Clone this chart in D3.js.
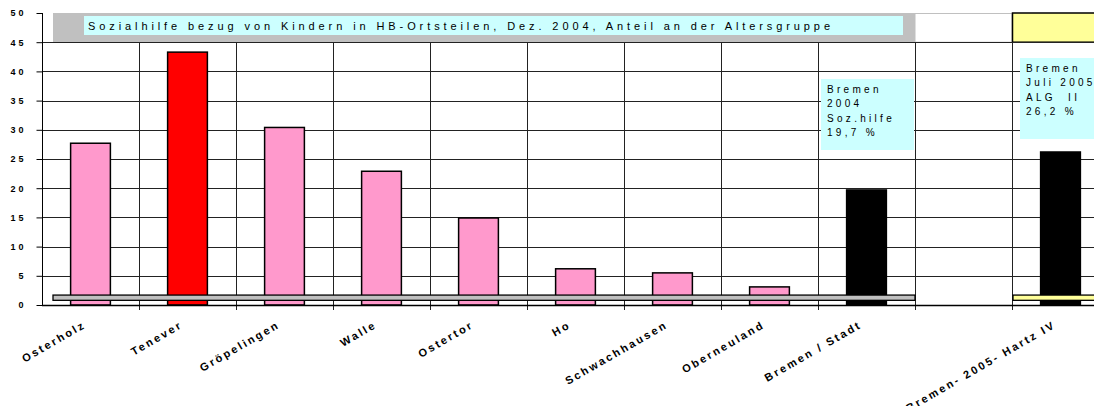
<!doctype html>
<html lang="de">
<head>
<meta charset="UTF-8" />
<title>Sozialhilfebezug von Kindern</title>
<script src="https://d3js.org/d3.v7.min.js"></script>
<style>
  body { margin: 0; background: #fff; }
  text { font-family: Arial, "Liberation Sans", sans-serif; }
</style>
</head>
<body>
<div id="chart"></div>
<script>
var categories = ['Osterholz', 'Tenever', 'Gröpelingen', 'Walle', 'Ostertor', 'Ho',
    'Schwachhausen', 'Oberneuland', 'Bremen / Stadt', ' ', 'Bremen- 2005- Hartz IV'];
var values = [27.7, 43.3, 30.4, 22.9, 14.9, 6.2, 5.5, 3.1, 19.7, null, 26.2];
var barColors = ['#ff99cc', '#ff0000', '#ff99cc', '#ff99cc', '#ff99cc', '#ff99cc',
    '#ff99cc', '#ff99cc', '#000000', null, '#000000'];
var yTicks = [0, 5, 10, 15, 20, 25, 30, 35, 40, 45, 50];
var titleText = 'Sozialhilfe bezug von Kindern in HB-Ortsteilen, Dez. 2004, Anteil an der Altersgruppe';
var note2004 = ['Bremen', '2004', 'Soz.hilfe', '19,7 %'];
var note2005 = ['Bremen', 'Juli 2005', 'ALG  II', '26,2 %'];
// thin base strips drawn over the bars (value range)
var baseStrips = [
    { from: 0, to: 8, lo: 0.8, hi: 1.7, color: '#c0c0c0' },
    { from: 10, to: 10, lo: 0.8, hi: 1.7, color: '#ffff99' }
];

(function () {
var width = 1094, height = 406;
var mLeft = 42, mTop = 13, mBottom = 305;
var step = 97;

var svg = d3.select('#chart').append('svg')
    .attr('width', width)
    .attr('height', height);

var x = d3.scaleBand()
    .domain(categories)
    .range([mLeft, mLeft + step * categories.length])
    .paddingInner(0.59)
    .paddingOuter(0.295);

var y = d3.scaleLinear()
    .domain([0, 50])
    .range([mBottom, mTop]);

var slotStart = function (i) { return x(categories[i]) - x.step() * 0.295; };

// horizontal gridlines
svg.append('g')
    .selectAll('line')
    .data(yTicks.filter(function (d) { return d > 0 && d < 50; }))
    .enter()
    .append('line')
    .attr('x1', mLeft)
    .attr('x2', width)
    .attr('y1', function (d) { return Math.round(y(d)) + 0.5; })
    .attr('y2', function (d) { return Math.round(y(d)) + 0.5; })
    .attr('stroke', '#222')
    .attr('stroke-width', 1);

// vertical gridlines at category boundaries
svg.append('g')
    .selectAll('line')
    .data(d3.range(1, categories.length + 1))
    .enter()
    .append('line')
    .attr('x1', function (i) { return Math.round(mLeft + x.step() * i) + 0.5; })
    .attr('x2', function (i) { return Math.round(mLeft + x.step() * i) + 0.5; })
    .attr('y1', y(45))
    .attr('y2', mBottom + 5)
    .attr('stroke', '#222')
    .attr('stroke-width', 1);

// bars
svg.append('g')
    .selectAll('rect')
    .data(categories.map(function (c, i) { return { cat: c, v: values[i], color: barColors[i] }; })
        .filter(function (d) { return d.v !== null; }))
    .enter()
    .append('rect')
    .attr('x', function (d) { return x(d.cat); })
    .attr('y', function (d) { return y(d.v); })
    .attr('width', x.bandwidth())
    .attr('height', function (d) { return y(0) - y(d.v); })
    .attr('fill', function (d) { return d.color; })
    .attr('stroke', '#000')
    .attr('stroke-width', 1.5);

// base strips
var stripStart = function (d) { return d.from === 0 ? mLeft + 11 : slotStart(d.from) + 1; };
svg.append('g')
    .selectAll('rect')
    .data(baseStrips)
    .enter()
    .append('rect')
    .attr('x', stripStart)
    .attr('y', function (d) { return y(d.hi); })
    .attr('width', function (d) { return slotStart(d.to) + x.step() - stripStart(d); })
    .attr('height', function (d) { return y(d.lo) - y(d.hi); })
    .attr('fill', function (d) { return d.color; })
    .attr('stroke', '#000')
    .attr('stroke-width', 1.3);

// title bar area
svg.append('rect')
    .attr('x', mLeft + 1).attr('y', mTop)
    .attr('width', width).attr('height', y(45) - mTop)
    .attr('fill', '#fff');
svg.append('rect')
    .attr('x', mLeft + 11).attr('y', mTop)
    .attr('width', slotStart(9) - mLeft - 11).attr('height', y(45) - mTop)
    .attr('fill', '#c0c0c0');
svg.append('rect')
    .attr('x', slotStart(9)).attr('y', mTop + 0.5)
    .attr('width', x.step()).attr('height', y(45) - mTop - 0.5)
    .attr('fill', '#fff')
    .attr('stroke', '#c0c0c0');
svg.append('rect')
    .attr('x', slotStart(10) + 0.5).attr('y', mTop)
    .attr('width', x.step() + 20).attr('height', y(45) - mTop)
    .attr('fill', '#ffff99')
    .attr('stroke', '#000')
    .attr('stroke-width', 1.5);
svg.append('line')
    .attr('x1', mLeft).attr('x2', width)
    .attr('y1', Math.round(y(45)) + 0.5).attr('y2', Math.round(y(45)) + 0.5)
    .attr('stroke', '#222');

svg.append('rect')
    .attr('x', 84).attr('y', 16)
    .attr('width', 819).attr('height', 19)
    .attr('fill', '#ccffff');
svg.append('text')
    .attr('x', 88).attr('y', 30)
    .attr('font-size', '11px')
    .attr('fill', '#000')
    .attr('textLength', 742)
    .attr('lengthAdjust', 'spacing')
    .text(titleText);

// annotation boxes
function note(lines, bx, by, bw, bh) {
    var g = svg.append('g');
    g.append('rect')
        .attr('x', bx).attr('y', by)
        .attr('width', bw).attr('height', bh)
        .attr('fill', '#ccffff');
    g.selectAll('text')
        .data(lines)
        .enter()
        .append('text')
        .attr('x', bx + 6)
        .attr('y', function (d, i) { return by + 14 + i * 14.3; })
        .attr('font-size', '10px')
        .attr('letter-spacing', '3.3px')
        .attr('fill', '#000')
        .style('white-space', 'pre')
        .text(function (d) { return d; });
}
note(note2004, 821, 79, 93, 71);
note(note2005, 1020, 58, 90, 81);

// y axis
var yAxis = svg.append('g')
    .attr('transform', 'translate(' + (mLeft + 0.5) + ',0)')
    .call(d3.axisLeft(y).tickValues(yTicks).tickSize(6).tickFormat(function (d) { return d; }));
yAxis.select('.domain').attr('stroke', '#000').attr('d', 'M0,' + mTop + 'V' + mBottom);
yAxis.selectAll('.tick line').attr('stroke', '#000');
yAxis.selectAll('.tick text')
    .attr('x', -16)
    .attr('text-anchor', 'end')
    .attr('font-size', '9px')
    .attr('font-weight', 'bold')
    .attr('letter-spacing', '3px')
    .attr('fill', '#000')
    .text(function (d) { return d; });
// x axis
svg.append('line')
    .attr('x1', mLeft).attr('x2', width)
    .attr('y1', mBottom + 0.5).attr('y2', mBottom + 0.5)
    .attr('stroke', '#000').attr('stroke-width', 1.5);

svg.append('g')
    .selectAll('text')
    .data(categories)
    .enter()
    .append('text')
    .attr('transform', function (d) {
        return 'translate(' + (x(d) + x.bandwidth() / 2 - 4) + ',' + 327 + ') rotate(-30)';
    })
    .attr('text-anchor', 'end')
    .attr('font-size', '11px')
    .attr('font-weight', 'bold')
    .attr('letter-spacing', '2.3px')
    .attr('fill', '#000')
    .text(function (d) { return d.trim(); });
})();
</script>
</body>
</html>
